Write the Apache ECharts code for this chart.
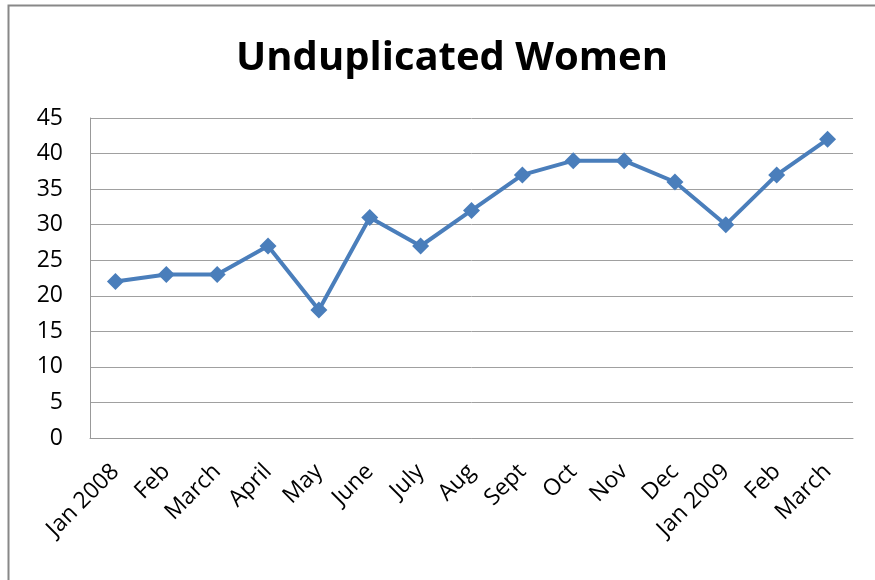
<!DOCTYPE html>
<html><head><meta charset="utf-8">
<script src="https://cdn.jsdelivr.net/npm/echarts@6/dist/echarts.min.js"></script>
<style>html,body{margin:0;padding:0;background:#fff}#c{width:875px;height:580px}</style>
</head><body><div id="c"></div>
<script>
const categories = ['Jan 2008','Feb','March','April','May','June','July','Aug','Sept','Oct','Nov','Dec','Jan 2009','Feb','March'];
const values = [22,23,23,27,18,31,27,32,37,39,39,36,30,37,42];
const yTicks = [0,5,10,15,20,25,30,35,40,45];
const titleText = 'Unduplicated Women';

const chart = echarts.init(document.getElementById('c'));
const font = '"Open Sans", "Liberation Sans", sans-serif';
chart.setOption({
  animation: false,
  graphic: [{type:'rect', shape:{x:8.5,y:5.5,width:900,height:600}, style:{fill:'none', stroke:'#888', lineWidth:2}}],
  title: {text: titleText, left: 447, top: 34, textAlign:'center',
    textStyle:{fontFamily: font, fontWeight:'bold', fontSize:40, color:'#000'}},
  grid: {left: 90, right: 22, top: 118, bottom: 142, containLabel:false},
  xAxis: {type:'category', data: categories, boundaryGap:true,
    axisLine:{show:true, lineStyle:{color:'#999', width:1}},
    axisTick:{show:false},
    axisLabel:{rotate:45, margin:30, fontFamily:font, fontSize:23, color:'#000', interval:0}},
  yAxis: {type:'value', min:yTicks[0], max:yTicks[yTicks.length-1], interval:5,
    axisLine:{show:true, lineStyle:{color:'#999', width:1}},
    axisTick:{show:false},
    splitLine:{show:true, lineStyle:{color:'#a0a0a0', width:1}},
    axisLabel:{margin:27, fontFamily:font, fontSize:23, color:'#000'}},
  series: [{type:'line', data: values, symbol:'diamond', symbolSize:17,
    lineStyle:{color:'#4a7ebb', width:4}, itemStyle:{color:'#4a7ebb'}}]
});
</script></body></html>
